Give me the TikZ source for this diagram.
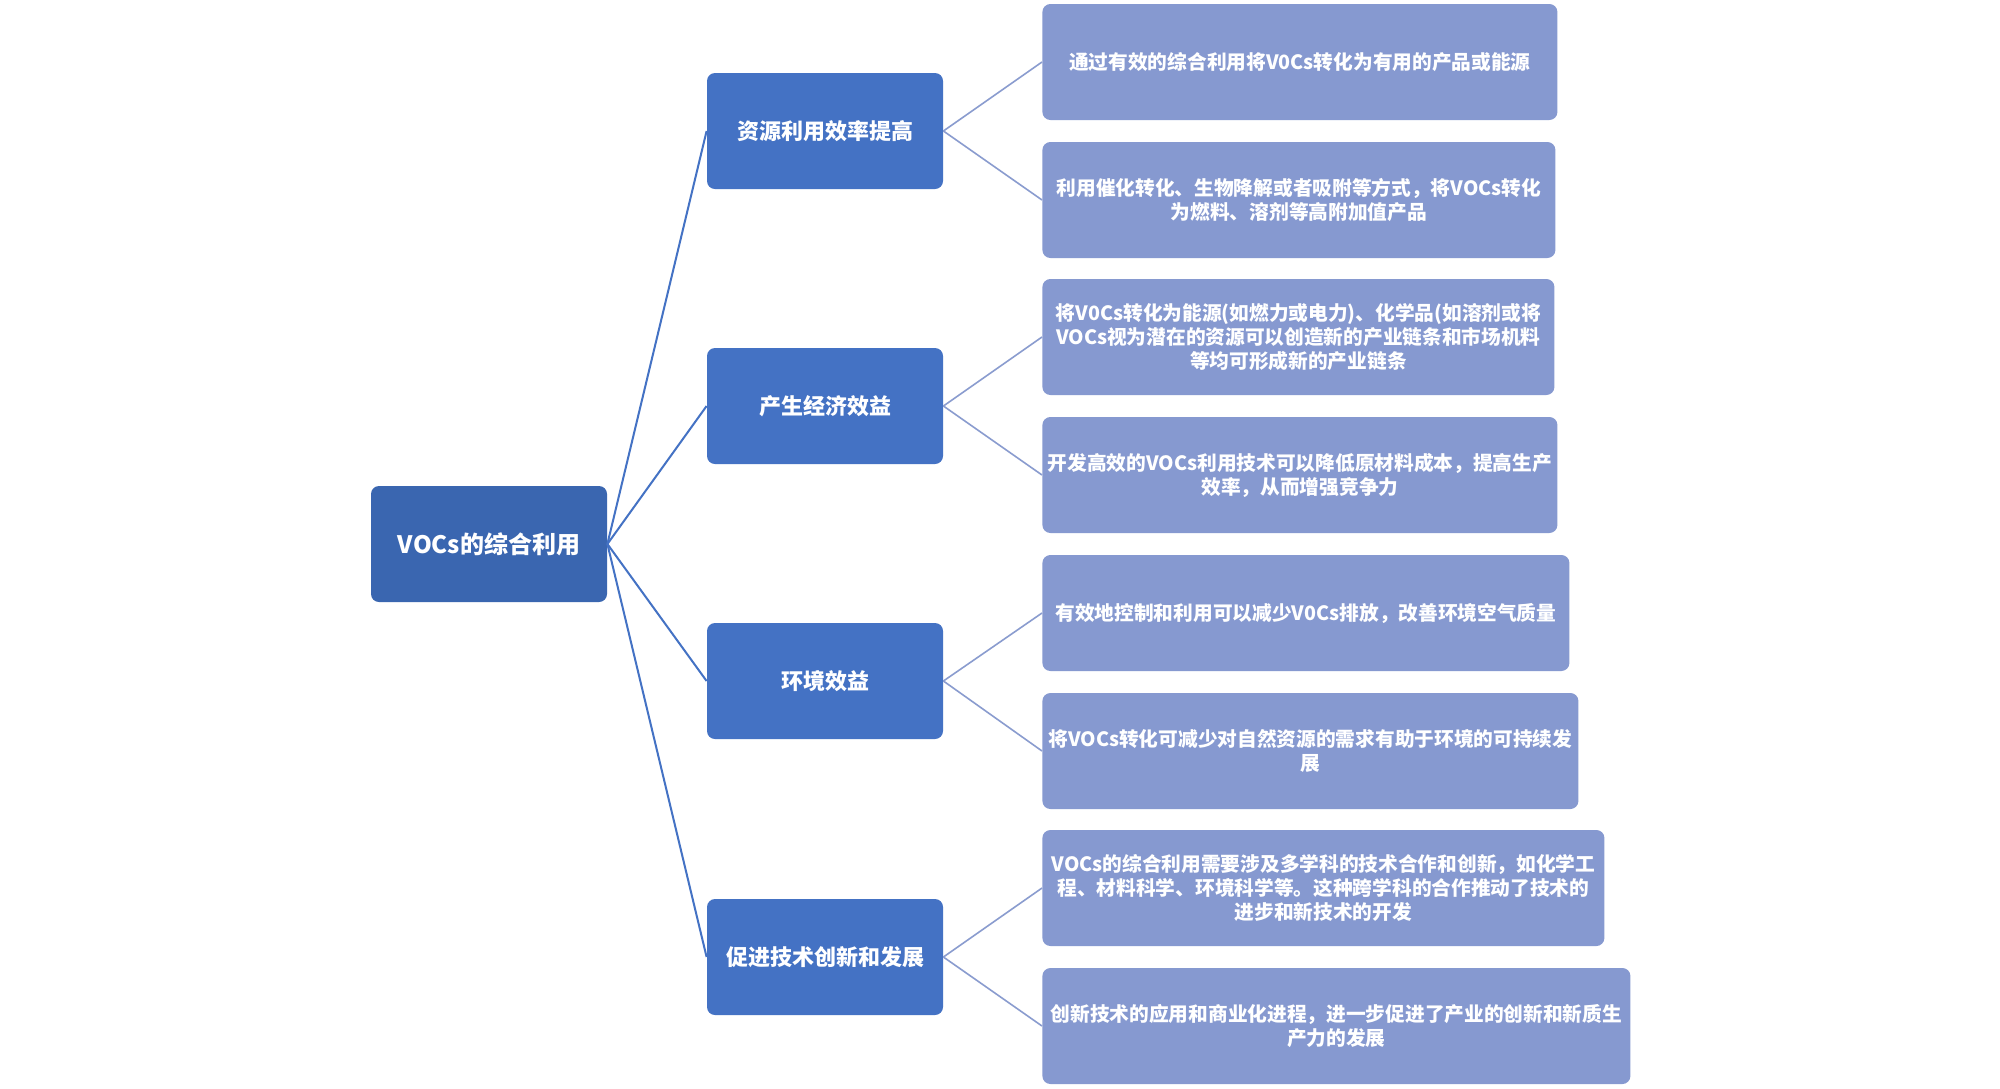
\documentclass[tikz,border=0pt]{standalone}
\usepackage{fontspec}
\setmainfont{Noto Sans CJK SC}
\begin{document}
\begin{tikzpicture}[x=0.5pt,y=-0.5pt,
  rootbox/.style={fill=rootblue,draw=none,rounded corners=4pt,minimum width=118pt,minimum height=58pt,text=white,font=\fontsize{12}{14}\selectfont\bfseries,inner sep=0pt},
  midbox/.style={fill=midblue,draw=none,rounded corners=4pt,minimum width=118pt,minimum height=58pt,text=white,font=\fontsize{11}{13}\selectfont\bfseries,inner sep=0pt},
  leafbox/.style={fill=leafblue,draw=none,rounded corners=4pt,minimum height=58pt,text=white,font=\fontsize{9.85}{12}\selectfont\bfseries,inner sep=0pt,align=center,anchor=west},
  mainline/.style={draw=midblue,line width=1pt},
  subline/.style={draw=subgray,line width=0.8pt}]
\definecolor{rootblue}{HTML}{3A66B0}
\definecolor{midblue}{HTML}{4472C4}
\definecolor{leafblue}{HTML}{8699D0}
\definecolor{subgray}{HTML}{8A9CCF}
\useasboundingbox (0,0) rectangle (2000,1088);
\fill[white] (0,0) rectangle (2000,1088);

\node[rootbox] (root) at (489,544) {VOCs的综合利用};

\node[midbox] (m1) at (825,131) {资源利用效率提高};
\node[midbox] (m2) at (825,406) {产生经济效益};
\node[midbox] (m3) at (825,681) {环境效益};
\node[midbox] (m4) at (825,957) {促进技术创新和发展};

\node[leafbox,minimum width=257.5pt] (l1) at (1042,62) {通过有效的综合利用将V0Cs转化为有用的产品或能源};
\node[leafbox,minimum width=256.5pt] (l2) at (1042,200) {利用催化转化、生物降解或者吸附等方式，将VOCs转化\\为燃料、溶剂等高附加值产品};
\node[leafbox,minimum width=256pt] (l3) at (1042,337) {将V0Cs转化为能源(如燃力或电力)、化学品(如溶剂或将\\VOCs视为潜在的资源可以创造新的产业链条和市场机料\\等均可形成新的产业链条};
\node[leafbox,minimum width=257.5pt] (l4) at (1042,475) {开发高效的VOCs利用技术可以降低原材料成本，提高生产\\效率，从而增强竞争力};
\node[leafbox,minimum width=263.5pt] (l5) at (1042,613) {有效地控制和利用可以减少V0Cs排放，改善环境空气质量};
\node[leafbox,minimum width=268pt] (l6) at (1042,751) {将VOCs转化可减少对自然资源的需求有助于环境的可持续发\\展};
\node[leafbox,minimum width=281pt] (l7) at (1042,888) {VOCs的综合利用需要涉及多学科的技术合作和创新，如化学工\\程、材料科学、环境科学等。这种跨学科的合作推动了技术的\\进步和新技术的开发};
\node[leafbox,minimum width=294pt] (l8) at (1042,1026) {创新技术的应用和商业化进程，进一步促进了产业的创新和新质生\\产力的发展};

\foreach \m in {m1,m2,m3,m4} \draw[mainline] (root.east) -- (\m.west);
\draw[subline] (m1.east) -- (l1.west);
\draw[subline] (m1.east) -- (l2.west);
\draw[subline] (m2.east) -- (l3.west);
\draw[subline] (m2.east) -- (l4.west);
\draw[subline] (m3.east) -- (l5.west);
\draw[subline] (m3.east) -- (l6.west);
\draw[subline] (m4.east) -- (l7.west);
\draw[subline] (m4.east) -- (l8.west);
\end{tikzpicture}
\end{document}
